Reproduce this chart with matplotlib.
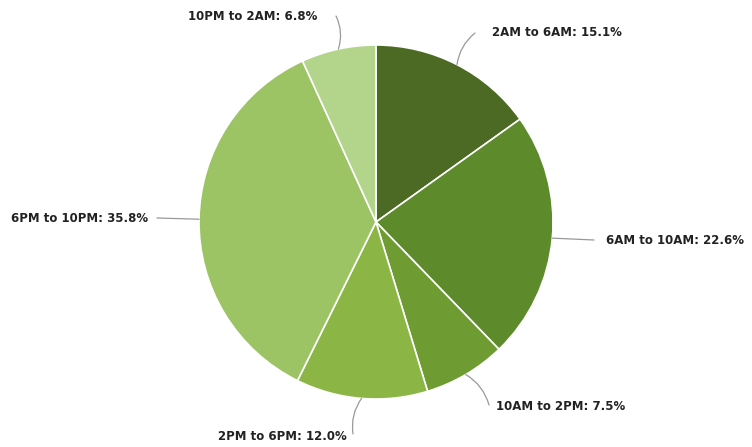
import numpy as np
import matplotlib
matplotlib.use("Agg")
import matplotlib.pyplot as plt

labels = ["2AM to 6AM", "6AM to 10AM", "10AM to 2PM", "2PM to 6PM", "6PM to 10PM", "10PM to 2AM"]
shares = [15.1, 22.6, 7.5, 12.0, 35.8, 6.8]
colors = ["#4c6a23", "#5d8a2b", "#6f9b33", "#8bb646", "#9dc464", "#b3d48b"]

# label anchor (pixel coords, y from top) and alignment
label_pos = [(492, 33, "left"), (606, 241, "left"), (496, 407, "left"),
             (282, 436, "center"), (148, 218, "right"), (253, 17, "center")]
line_end = [(475, 33), (594, 240), (489, 405), (353, 434), (157, 218), (336, 16)]

W, H = 752, 447
fig = plt.figure(figsize=(W / 100, H / 100), dpi=100)
ax = fig.add_axes([0, 0, 1, 1])
ax.set_xlim(0, W)
ax.set_ylim(0, H)
ax.set_aspect("equal")
ax.axis("off")

cx, cy, r = 376, H - 222, 177
wedges, _ = ax.pie(shares, colors=colors, startangle=90, counterclock=False,
                   center=(cx, cy), radius=r, frame=True,
                   wedgeprops=dict(edgecolor="white", linewidth=1.2))
ax.set_xlim(0, W)
ax.set_ylim(0, H)
ax.axis("off")

for w, lab, val, (tx, ty, ha), (ex, ey) in zip(wedges, labels, shares, label_pos, line_end):
    mid = np.deg2rad((w.theta1 + w.theta2) / 2)
    sx, sy = cx + r * np.cos(mid), cy + r * np.sin(mid)
    rad = 0.0 if abs(sy - (H - ey)) < 4 else (0.2 if sx > cx else -0.2)
    ax.annotate("", xy=(sx, sy), xytext=(ex, H - ey),
                arrowprops=dict(arrowstyle="-", color="#999999", lw=0.9,
                                connectionstyle=f"arc3,rad={rad}",
                                shrinkA=0, shrinkB=0))
    ax.text(tx, H - ty, f"{lab}: {val:.1f}%", ha=ha, va="center",
            fontsize=8.5, fontweight="bold", color="#222222", family="DejaVu Sans")

fig.savefig("out.png", dpi=100, facecolor="white")
